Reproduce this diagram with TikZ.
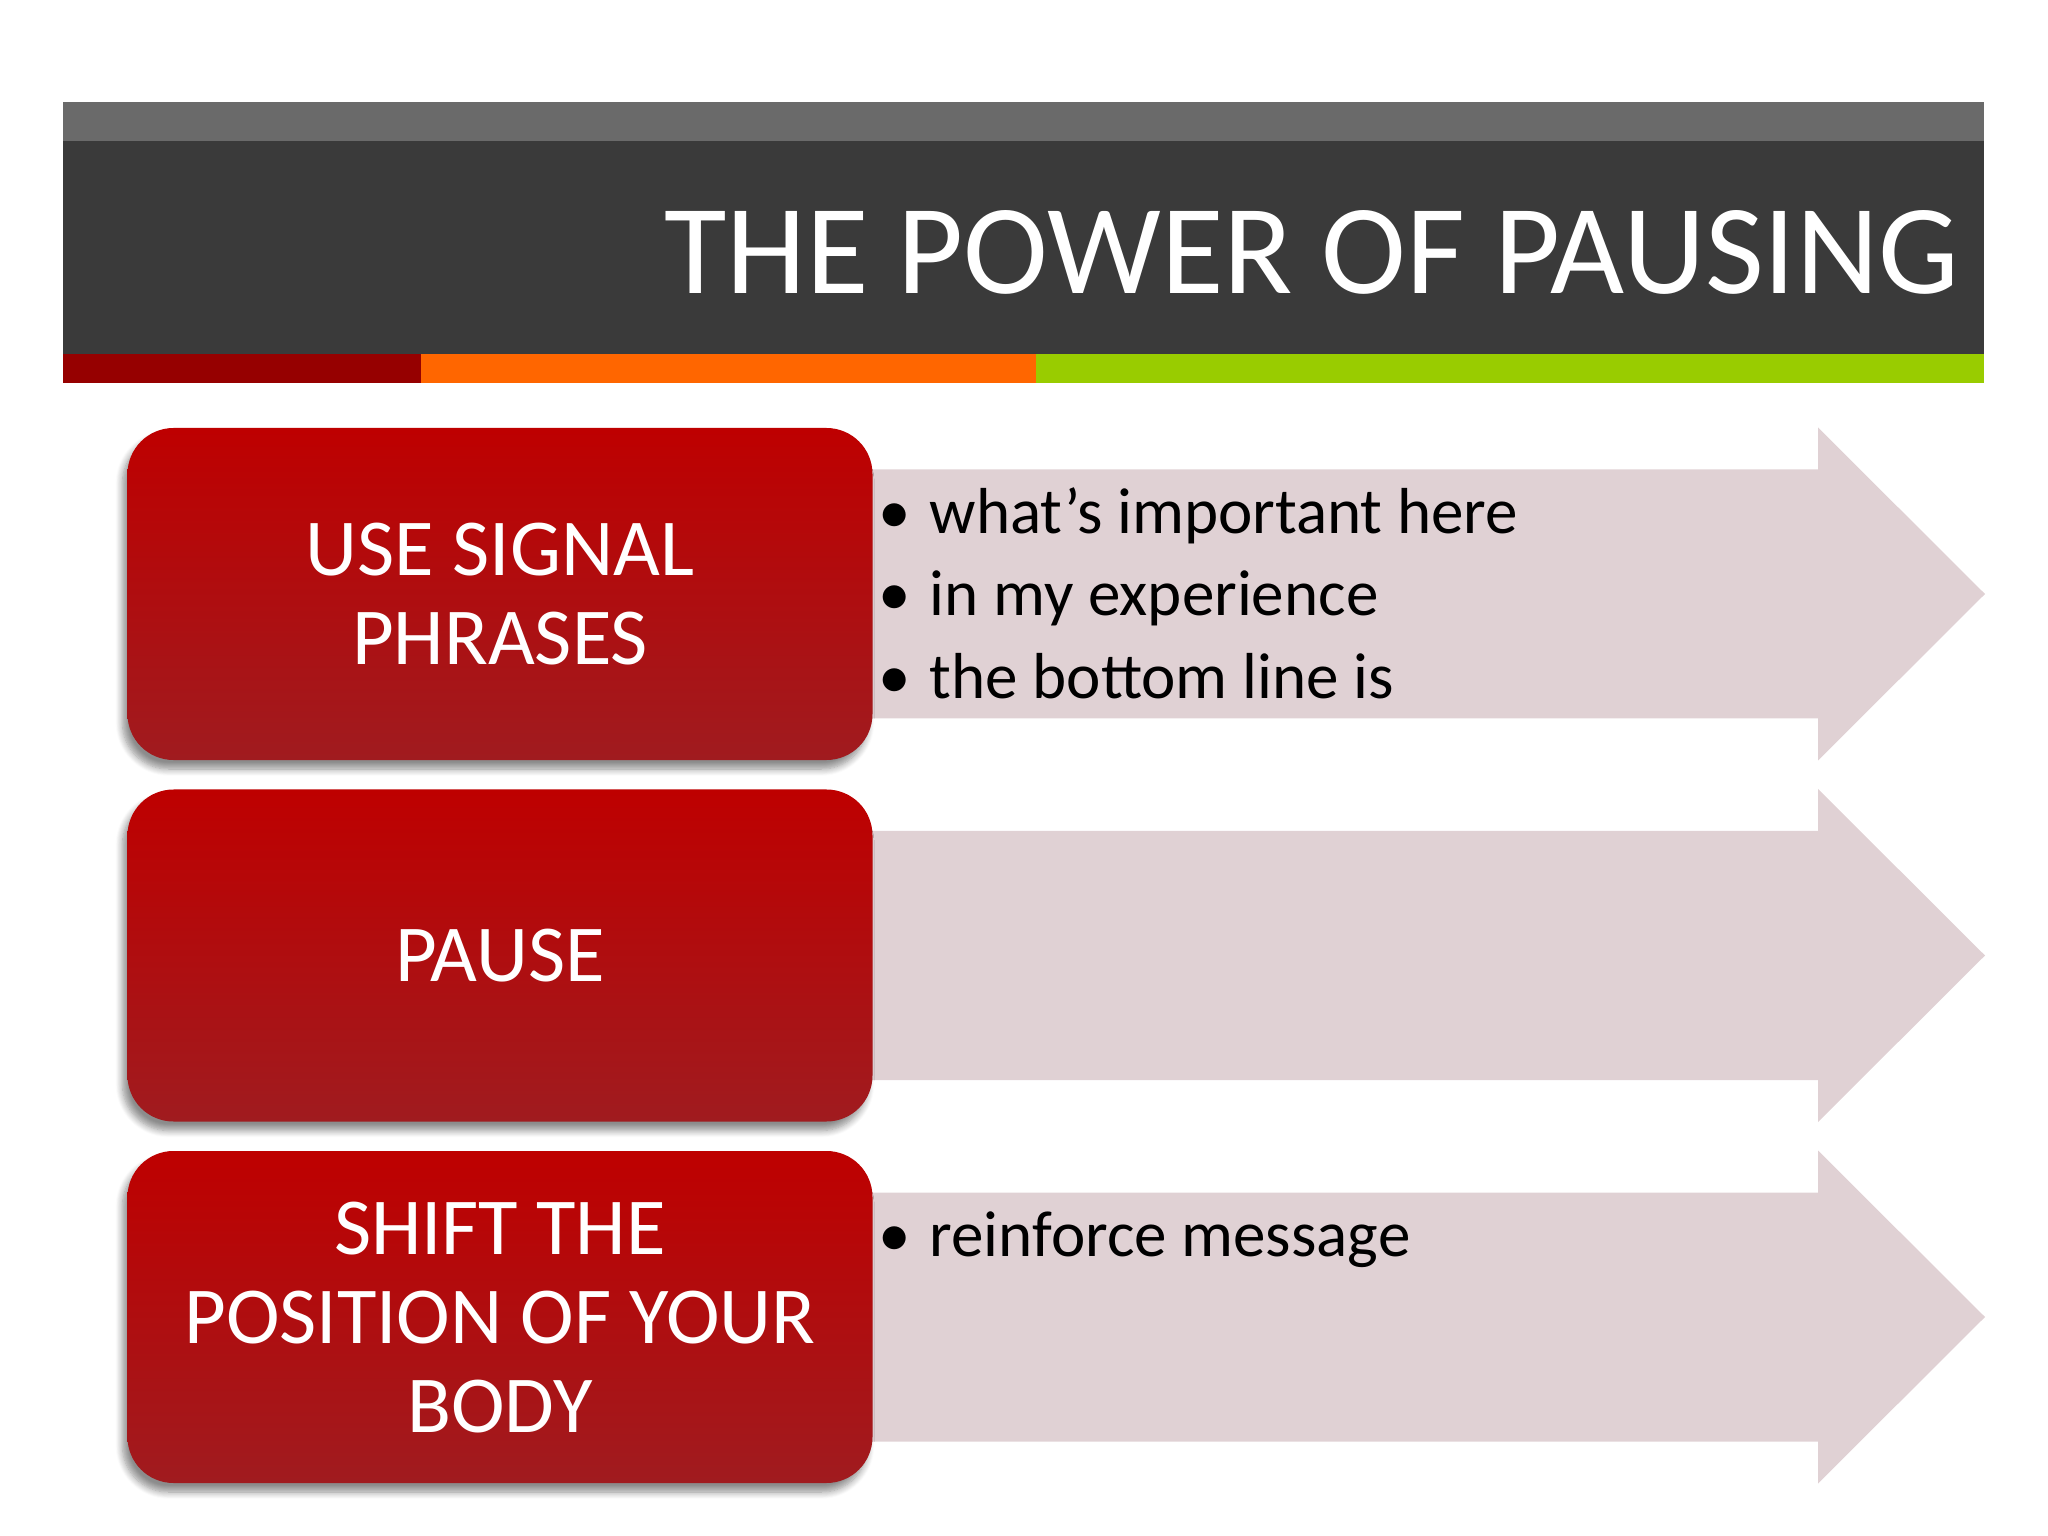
\documentclass[tikz,border=0pt]{standalone}
\usepackage{fontspec}
\setmainfont{Carlito}
\usetikzlibrary{shadows.blur}
\definecolor{bargray}{HTML}{6A6A6A}
\definecolor{bardark}{HTML}{3A3A3A}
\definecolor{stripered}{HTML}{960000}
\definecolor{stripeorange}{HTML}{FF6600}
\definecolor{stripegreen}{HTML}{99CC00}
\definecolor{boxtop}{HTML}{BE0000}
\definecolor{boxbot}{HTML}{A01B1F}
\definecolor{arrowpink}{HTML}{E0D1D4}
\newcommand{\itembullet}{\makebox[0.51cm][l]{•}}

\begin{document}
\begin{tikzpicture}[node distance={36.15mm},
    main/.style = {rounded corners=0.46cm, minimum width=7.45cm, minimum height=3.32cm, top color=boxtop, bottom color=boxbot, text=white, align=center, font=\fontsize{23}{25.3}\selectfont, text depth=-3pt, blur shadow={shadow xshift=-0.5mm, shadow yshift=-0.9mm, shadow blur steps=8, shadow opacity=45}},
    pointer/.style = {fill=arrowpink},
    item/.style = {anchor=base west, inner sep=0pt, font=\fontsize{18.5}{22}\selectfont}]
    \useasboundingbox (0,0) rectangle (20.48,-15.36);
    % title bar
    \fill[bargray] (0.63,-1.02) rectangle (19.84,-1.41);
    \fill[bardark] (0.63,-1.41) rectangle (19.84,-3.54);
    \fill[stripered] (0.63,-3.54) rectangle (4.21,-3.83);
    \fill[stripeorange] (4.21,-3.54) rectangle (10.36,-3.83);
    \fill[stripegreen] (10.36,-3.54) rectangle (19.84,-3.83);
    \node[anchor=base east, inner sep=0pt, text=white, font=\fontsize{36.4}{40}\selectfont] (title) at (19.6,-2.94) {THE POWER OF PAUSING};
    % arrows behind the boxes
    \fill[pointer] (7,-4.695) -- (18.18,-4.695) -- (18.18,-4.275) -- (19.85,-5.94) -- (18.18,-7.605) -- (18.18,-7.185) -- (7,-7.185) -- cycle;
    \fill[pointer] (7,-8.31) -- (18.18,-8.31) -- (18.18,-7.89) -- (19.85,-9.555) -- (18.18,-11.22) -- (18.18,-10.8) -- (7,-10.8) -- cycle;
    \fill[pointer] (7,-11.925) -- (18.18,-11.925) -- (18.18,-11.505) -- (19.85,-13.17) -- (18.18,-14.835) -- (18.18,-14.415) -- (7,-14.415) -- cycle;
    % boxes
    \node[main] (1) at (5.0,-5.94) {USE SIGNAL\\PHRASES};
    \node[main] (2) [below of = 1] {PAUSE};
    \node[main] (3) [below of = 2] {SHIFT THE\\POSITION OF YOUR\\BODY};
    % bullet texts
    \node[item] (i1) at (8.78,-5.33) {\itembullet what’s important here};
    \node[item] (i2) at (8.78,-6.16) {\itembullet in my experience};
    \node[item] (i3) at (8.78,-6.99) {\itembullet the bottom line is};
    \node[item] (i4) at (8.78,-12.56) {\itembullet reinforce message};
\end{tikzpicture}
\end{document}
